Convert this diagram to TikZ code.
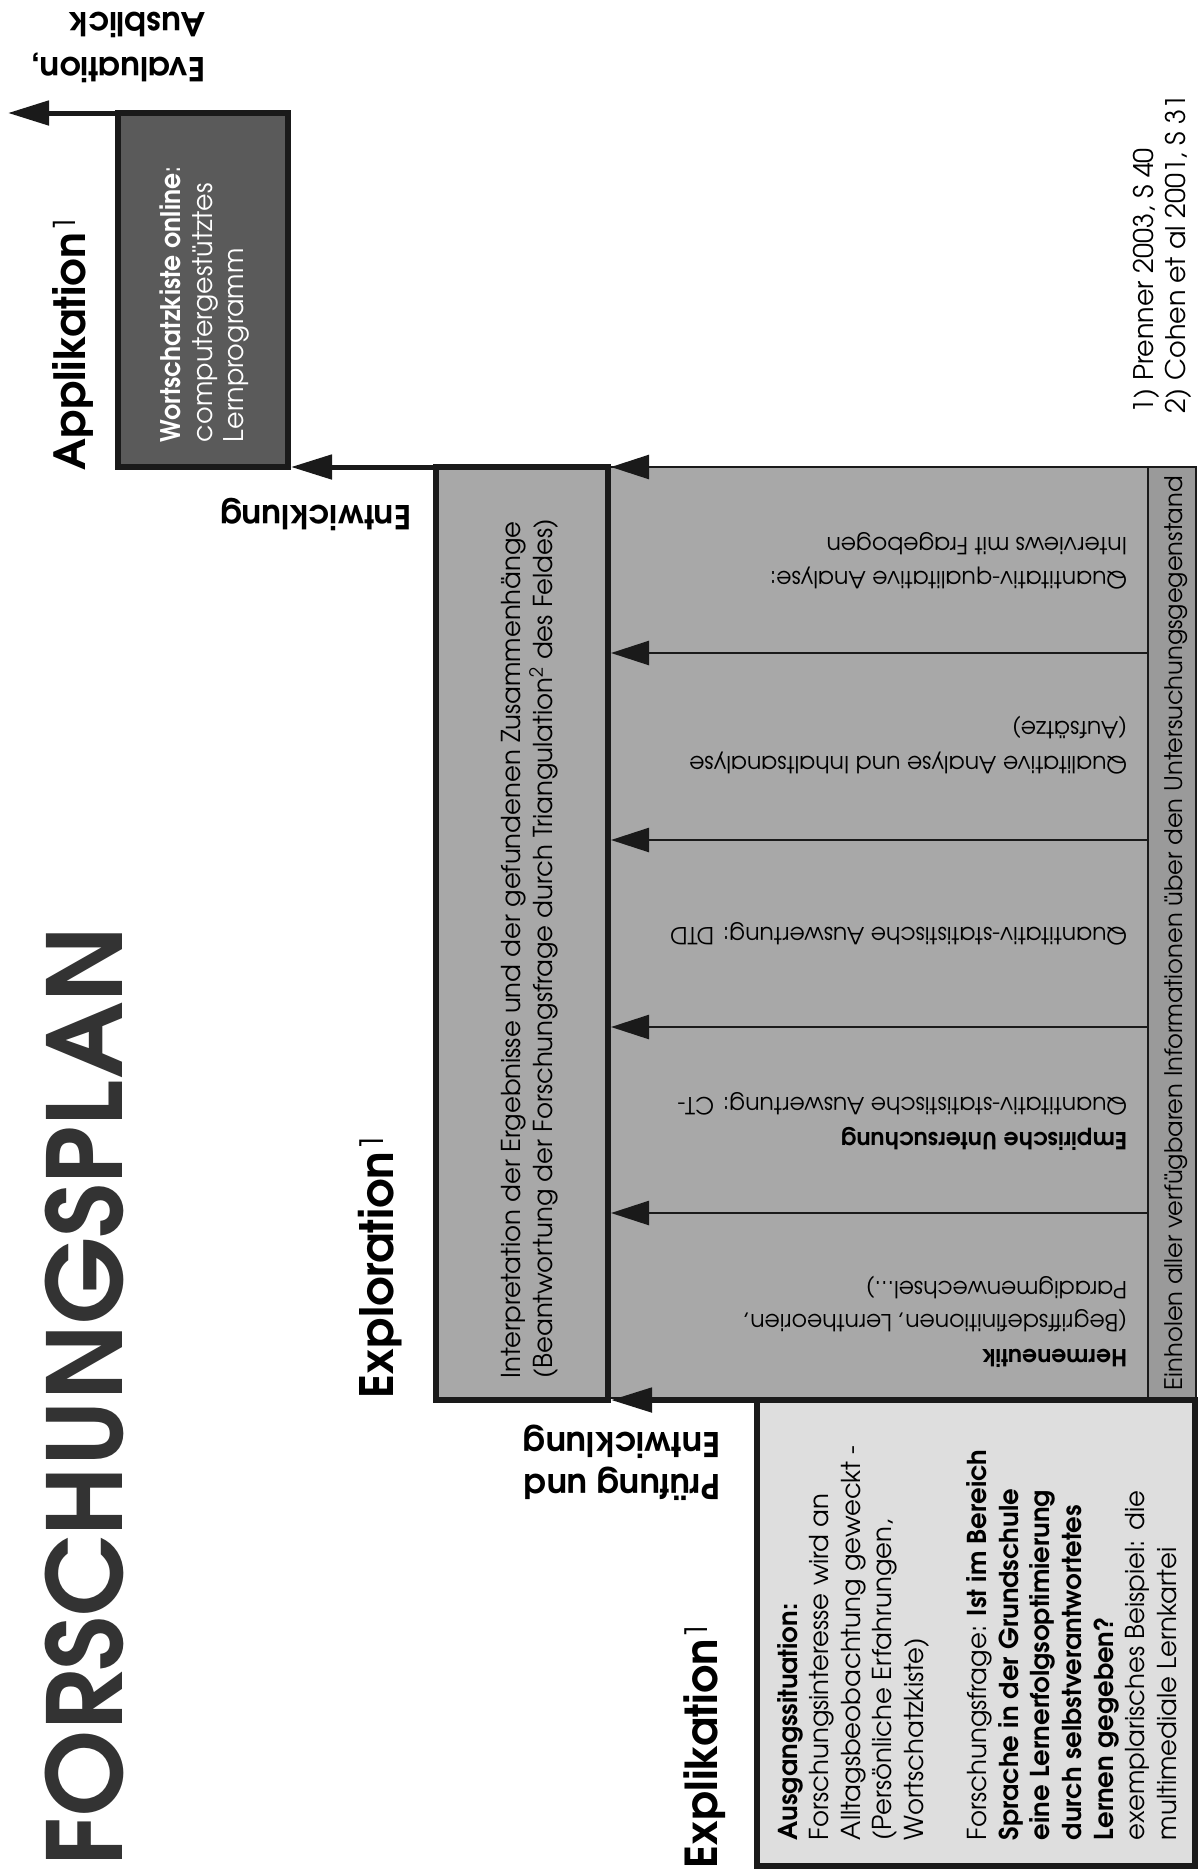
\documentclass[tikz,border=0pt]{standalone}
\usepackage{fontspec}
\setmainfont{TeX Gyre Adventor}
\usetikzlibrary{arrows.meta}
\definecolor{boxline}{HTML}{1A1A1A}
\definecolor{appfill}{HTML}{5A5A5A}
\definecolor{midfill}{HTML}{A8A8A8}
\definecolor{stripfill}{HTML}{9A9A9A}
\definecolor{lightfill}{HTML}{DEDEDE}
\definecolor{titlegray}{HTML}{333333}
\newcommand\fsTitle{\fontsize{103}{106}\selectfont\bfseries}
\newcommand\fsLabA{\fontsize{43}{46}\selectfont\bfseries}
\newcommand\fsLabB{\fontsize{46}{50}\selectfont\bfseries}
\newcommand\fsLabC{\fontsize{44}{48}\selectfont\bfseries}
\newcommand\fsSide{\fontsize{33}{36}\selectfont\bfseries}
\newcommand\fsSideB{\fontsize{34}{37}\selectfont\bfseries}
\newcommand\fsGray{\fontsize{23.5}{28}\selectfont}
\newcommand\fsAusg{\fontsize{26}{30}\selectfont}
\newcommand\fsApp{\fontsize{27}{30}\selectfont}
\newcommand\fsInt{\fontsize{26}{30}\selectfont}
\newcommand\fsStrip{\fontsize{24.2}{28}\selectfont}
\newcommand\fsFoot{\fontsize{27}{30}\selectfont}
\begin{document}
\begin{tikzpicture}[x=1pt,y=-1pt,
  every node/.style={inner sep=0pt, outer sep=0pt},
  thickbox/.style={draw=boxline, line width=6pt, rectangle},
  thinbox/.style={draw=boxline, line width=2.5pt, rectangle},
  bigarrow/.style={draw=boxline, line width=5pt, -{Triangle[length=41pt,width=24pt]}},
  smallarrow/.style={draw=boxline, line width=2.5pt, -{Triangle[length=38pt,width=24pt]}},
  uptext/.style={rotate=90, anchor=base west},
  fliptext/.style={rotate=180, anchor=base west}]
\useasboundingbox (0,0) rectangle (1200,1869);
% boxes
\node[thinbox, fill=midfill, minimum width=540pt, minimum height=931pt] (gray) at (878,932.5) {};
\node[thinbox, fill=stripfill, minimum width=48pt, minimum height=931pt] (strip) at (1172,932.5) {};
\node[thickbox, fill=appfill, minimum width=170pt, minimum height=354pt] (app) at (203,290) {};
\node[thickbox, fill=midfill, minimum width=172pt, minimum height=933pt] (interp) at (522,933.5) {};
\node[thickbox, fill=lightfill, minimum width=438pt, minimum height=466pt] (ausg) at (976,1633) {};
% coordinates
\coordinate (evalend) at (8,113);
\coordinate (appin) at (291,467);
\coordinate (s0) at (1148,467);
\coordinate (s1) at (1148,653);
\coordinate (s2) at (1148,840);
\coordinate (s3) at (1148,1027);
\coordinate (s4) at (1148,1213);
\coordinate (t0) at (611,467);
\coordinate (t1) at (611,653);
\coordinate (t2) at (611,840);
\coordinate (t3) at (611,1027);
\coordinate (t4) at (611,1213);
\coordinate (t5) at (611,1400);
% arrows
\draw[bigarrow] (app.north west) -- (evalend);
\draw[bigarrow] (interp.north west) -- (appin);
\draw[bigarrow] (ausg.north west) -- (t5);
\draw[smallarrow] (s0) -- (t0);
\draw[smallarrow] (s1) -- (t1);
\draw[smallarrow] (s2) -- (t2);
\draw[smallarrow] (s3) -- (t3);
\draw[smallarrow] (s4) -- (t4);
% title and labels
\node[uptext, font=\fsTitle, text=titlegray] (title) at (122,1866) {FORSCHUNGSPLAN};
\node[uptext, font=\fsLabA] (applab) at (85,470) {Applikation\textsuperscript{\mdseries 1}};
\node[uptext, font=\fsLabB] (explolab) at (393,1398) {Exploration\textsuperscript{\mdseries 1}};
\node[uptext, font=\fsLabC] (explilab) at (717,1868) {Explikation\textsuperscript{\mdseries 1}};
\node[fliptext, font=\fsSide] (eval1) at (205,57) {Evaluation,};
\node[fliptext, font=\fsSide] (eval2) at (205,12) {Ausblick};
\node[fliptext, font=\fsSide] (entw) at (411,505) {Entwicklung};
\node[fliptext, font=\fsSideB] (pruef1) at (720,1474) {Prüfung und};
\node[fliptext, font=\fsSideB] (pruef2) at (720,1432) {Entwicklung};
% application box text
\node[uptext, font=\fsApp, text=white] (app1) at (180,442) {\scalebox{0.93}[1]{\textbf{Wortschatzkiste online}}:};
\node[uptext, font=\fsApp, text=white] (app2) at (212,442) {computergestütztes};
\node[uptext, font=\fsApp, text=white] (app3) at (243,442) {Lernprogramm};
% interpretation text
\node[uptext, font=\fsInt] (int1) at (520,1378) {Interpretation der Ergebnisse und der gefundenen Zusammenhänge};
\node[uptext, font=\fsInt] (int2) at (552,1378) {(Beantwortung der Forschungsfrage durch Triangulation\textsuperscript{2} des Feldes)};
% strip text
\node[uptext, font=\fsStrip] (striptext) at (1182,1390) {Einholen aller verfügbaren Informationen über den Untersuchungsgegenstand};
% gray section texts
\node[fliptext, font=\fsGray\bfseries] (h1) at (1127,1349) {Hermeneutik};
\node[fliptext, font=\fsGray] (h2) at (1127,1314) {(Begriffsdefinitionen, Lerntheorien,};
\node[fliptext, font=\fsGray] (h3) at (1127,1281) {Paradigmenwechsel...)};
\node[fliptext, font=\fsGray\bfseries] (e1) at (1127,1132) {Empirische Untersuchung};
\node[fliptext, font=\fsGray] (e2) at (1127,1097) {Quantitativ-statistische Auswertung: CT-};
\node[fliptext, font=\fsGray] (d1) at (1127,927) {Quantitativ-statistische Auswertung: DTD};
\node[fliptext, font=\fsGray] (q1) at (1127,756) {Qualitative Analyse und Inhaltsanalyse};
\node[fliptext, font=\fsGray] (q2) at (1127,721) {(Aufsätze)};
\node[fliptext, font=\fsGray] (i1) at (1127,571) {Quantitativ-qualitative Analyse:};
\node[fliptext, font=\fsGray] (i2) at (1127,537) {Interviews mit Fragebogen};
% Ausgangssituation text
\node[uptext, font=\fsAusg\bfseries] (a1) at (797,1840) {Ausgangssituation:};
\node[uptext, font=\fsAusg] (a2) at (828.6,1840) {Forschungsinteresse wird an};
\node[uptext, font=\fsAusg] (a3) at (860.2,1840) {Alltagsbeobachtung geweckt -};
\node[uptext, font=\fsAusg] (a4) at (891.8,1840) {(Persönliche Erfahrungen,};
\node[uptext, font=\fsAusg] (a5) at (923.4,1840) {Wortschatzkiste)};
\node[uptext, font=\fsAusg] (a6) at (986.6,1840) {Forschungsfrage: \textbf{Ist im Bereich}};
\node[uptext, font=\fsAusg\bfseries] (a7) at (1018.2,1840) {Sprache in der Grundschule};
\node[uptext, font=\fsAusg\bfseries] (a8) at (1049.8,1840) {eine Lernerfolgsoptimierung};
\node[uptext, font=\fsAusg\bfseries] (a9) at (1081.4,1840) {durch selbstverantwortetes};
\node[uptext, font=\fsAusg\bfseries] (a10) at (1113,1840) {Lernen gegeben?};
\node[uptext, font=\fsAusg] (a11) at (1144.6,1840) {exemplarisches Beispiel: die};
\node[uptext, font=\fsAusg] (a12) at (1176.2,1840) {multimediale Lernkartei};
% footnotes
\node[uptext, font=\fsFoot] (fn1) at (1153,413) {1) Prenner 2003, S 40};
\node[uptext, font=\fsFoot] (fn2) at (1185,413) {2) Cohen et al 2001, S 31};
\end{tikzpicture}
\end{document}
